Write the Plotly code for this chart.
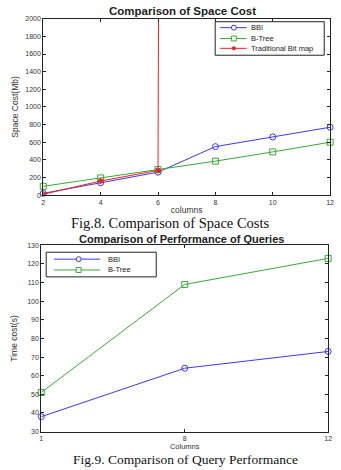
import plotly.graph_objects as go

# ---- data: Fig.8 space cost ----
space_cols = [2, 4, 6, 8, 10, 12]
bbi_space = [20, 140, 260, 550, 660, 770]
btree_space = [100, 195, 290, 385, 490, 600]
bitmap_cols = [2, 4, 6, 8]
bitmap_space = [10, 160, 280, 200000]

# ---- data: Fig.9 query performance ----
query_cols = ["1", "8", "12"]
bbi_time = [38, 64, 73]
btree_time = [51, 109, 123]

series1_names = ["BBI", "B-Tree", "Traditional Bit map"]
series2_names = ["BBI", "B-Tree"]

W, H = 341, 470
BLUE = "#3a3ae6"
GREEN = "#3aa83a"
RED = "#ee2020"

def px(x):
    return x / W

def py(y):
    return 1 - y / H

fig = go.Figure()

mk = dict(size=6, line=dict(width=1))
fig.add_trace(go.Scatter(x=space_cols, y=bbi_space, name=series1_names[0], mode="lines+markers",
                         line=dict(color=BLUE, width=1),
                         marker=dict(symbol="circle-open", color=BLUE, **mk),
                         xaxis="x", yaxis="y", cliponaxis=False))
fig.add_trace(go.Scatter(x=space_cols, y=btree_space, name=series1_names[1], mode="lines+markers",
                         line=dict(color=GREEN, width=1),
                         marker=dict(symbol="square-open", color=GREEN, **mk),
                         xaxis="x", yaxis="y", cliponaxis=False))
fig.add_trace(go.Scatter(x=bitmap_cols, y=bitmap_space, name=series1_names[2], mode="lines+markers",
                         line=dict(color=RED, width=1),
                         marker=dict(symbol="asterisk-open", color=RED, size=5, line=dict(width=1.2, color=RED)),
                         xaxis="x", yaxis="y", cliponaxis=True))

fig.add_trace(go.Scatter(x=query_cols, y=bbi_time, name=series2_names[0], mode="lines+markers",
                         line=dict(color=BLUE, width=1),
                         marker=dict(symbol="circle-open", color=BLUE, **mk),
                         xaxis="x2", yaxis="y2", cliponaxis=False))
fig.add_trace(go.Scatter(x=query_cols, y=btree_time, name=series2_names[1], mode="lines+markers",
                         line=dict(color=GREEN, width=1),
                         marker=dict(symbol="square-open", color=GREEN, **mk),
                         xaxis="x2", yaxis="y2", cliponaxis=False))

tickfont = dict(family="Liberation Sans, Arial", size=7, color="#333")
axfont = dict(family="Liberation Sans, Arial", size=8.5, color="#333")
axcommon = dict(showline=True, linecolor="#222", linewidth=1, mirror="ticks",
                ticks="inside", ticklen=3, tickcolor="#222", showgrid=False,
                zeroline=False, tickfont=tickfont)

shapes = []
annotations = []

def add_legend(box, rows, names, colors, symbols, line_x, mark_x, text_x):
    x0, y0, x1, y1 = box
    shapes.append(dict(type="rect", xref="paper", yref="paper",
                       x0=px(x0), x1=px(x1), y0=py(y1), y1=py(y0),
                       line=dict(color="#222", width=1), fillcolor="white", layer="above"))
    for ry, name, col, sym in zip(rows, names, colors, symbols):
        shapes.append(dict(type="line", xref="paper", yref="paper",
                           x0=px(line_x[0]), x1=px(line_x[1]), y0=py(ry), y1=py(ry),
                           line=dict(color=col, width=1), layer="above"))
        r = 2.5
        if sym == "circle":
            shapes.append(dict(type="circle", xref="paper", yref="paper",
                               x0=px(mark_x - r), x1=px(mark_x + r), y0=py(ry + r), y1=py(ry - r),
                               line=dict(color=col, width=1), fillcolor="white", layer="above"))
        elif sym == "square":
            shapes.append(dict(type="rect", xref="paper", yref="paper",
                               x0=px(mark_x - r), x1=px(mark_x + r), y0=py(ry + r), y1=py(ry - r),
                               line=dict(color=col, width=1), fillcolor="white", layer="above"))
        else:
            r = 1.6
            shapes.append(dict(type="circle", xref="paper", yref="paper",
                               x0=px(mark_x - r), x1=px(mark_x + r), y0=py(ry + r), y1=py(ry - r),
                               line=dict(color=col, width=1), fillcolor=col, layer="above"))
        annotations.append(dict(text=name, x=px(text_x), y=py(ry), xref="paper", yref="paper",
                                showarrow=False, xanchor="left", yanchor="middle",
                                font=dict(family="Liberation Sans, Arial", size=7.5, color="#222")))

add_legend((217, 18, 328, 52), [24, 35, 45], series1_names,
           [BLUE, GREEN, RED], ["circle", "square", "star"], (222, 249), 236, 251)
add_legend((45, 252, 157, 277), [259, 270], series2_names,
           [BLUE, GREEN], ["circle", "square"], (53, 100), 78, 106)

annotations += [
    dict(text="<b>Comparison of Space Cost</b>", x=px(184), y=py(7), xref="paper", yref="paper",
         showarrow=False, xanchor="center", yanchor="middle",
         font=dict(family="Liberation Sans, Arial", size=11.5, color="#222")),
    dict(text="Fig.8. Comparison of Space Costs", x=px(172), y=py(222.5), xref="paper", yref="paper",
         showarrow=False, xanchor="center", yanchor="middle",
         font=dict(family="Liberation Serif, Times New Roman", size=14.5, color="#111")),
    dict(text="<b>Comparison of Performance of Queries</b>", x=px(183), y=py(238.5), xref="paper", yref="paper",
         showarrow=False, xanchor="center", yanchor="middle",
         font=dict(family="Liberation Sans, Arial", size=11, color="#222")),
    dict(text="Fig.9. Comparison of Query Performance", x=px(187), y=py(462), xref="paper", yref="paper",
         showarrow=False, xanchor="center", yanchor="middle",
         font=dict(family="Liberation Serif, Times New Roman", size=13.5, color="#111")),
]

fig.update_layout(
    width=W, height=H, margin=dict(l=0, r=0, t=0, b=0),
    paper_bgcolor="white", plot_bgcolor="white",
    showlegend=False,
    xaxis=dict(domain=[px(42), px(334)], anchor="y", range=[2, 12],
               tickvals=space_cols, **axcommon,
               title=dict(text="columns", font=axfont, standoff=2)),
    yaxis=dict(domain=[py(194), py(15)], anchor="x", range=[0, 2000], dtick=200, **axcommon,
               title=dict(text="Space Cost(Mb)", font=axfont, standoff=5)),
    xaxis2=dict(domain=[px(40), px(332)], anchor="y2", type="category", range=[0, 2], **axcommon,
                title=dict(text="Columns", font=dict(family="Liberation Sans, Arial", size=7.5, color="#333"), standoff=0)),
    yaxis2=dict(domain=[py(434), py(245)], anchor="x2", range=[30, 130], dtick=10, **axcommon,
                title=dict(text="Time cost(s)", font=axfont, standoff=8)),
    shapes=shapes,
    annotations=annotations,
)

fig.write_html("out.html")
